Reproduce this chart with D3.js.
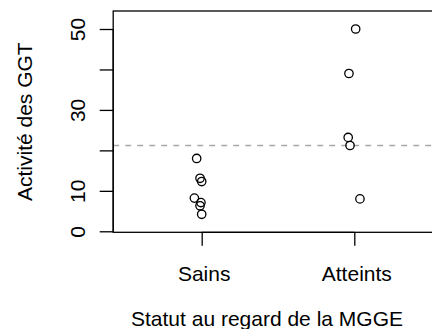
<!DOCTYPE html>
<html>
<head>
<meta charset="utf-8">
<script src="https://cdn.jsdelivr.net/npm/d3@7"></script>
<style>
  html, body { margin: 0; padding: 0; background: #fff; }
  svg { display: block; }
  text { font-family: "Liberation Sans", Arial, Helvetica, sans-serif; fill: #000; }
</style>
</head>
<body>
<svg id="chart" width="432" height="329"></svg>
<script>
// ---- data ----
const categories = ["Sains", "Atteints"];
const sainsValues = [18.0, 13.1, 12.3, 8.2, 7.1, 6.3, 4.2];
const sainsJitter = [-0.033, -0.011, 0.0, -0.048, -0.005, -0.011, 0.0];
const atteintsValues = [50.0, 39.0, 23.2, 21.2, 8.0];
const atteintsJitter = [0.009, -0.035, -0.040, -0.028, 0.037];
const referenceValue = 21.2;
const yTicks = [0, 10, 20, 30, 40, 50];
const yTickLabels = ["0", "10", "", "30", "", "50"];
const yTitle = "Activité des GGT";
const xTitle = "Statut au regard de la MGGE";

// ---- layout ----
const W = 432, H = 329;
const plot = { left: 113.2, right: 442.8, top: 11, bottom: 232.3 };
const fontSize = 21;

const svg = d3.select("#chart");

const x = d3.scaleLinear().domain([0.42, 2.58]).range([plot.left, plot.right]);
const y = d3.scaleLinear().domain([-0.25, 54.45]).range([plot.bottom, plot.top]);

const points = [];
sainsValues.forEach((v, i) => points.push({ g: 1, v, j: sainsJitter[i] }));
atteintsValues.forEach((v, i) => points.push({ g: 2, v, j: atteintsJitter[i] }));

// reference dashed line
svg.append("line")
  .attr("x1", plot.left).attr("x2", plot.right)
  .attr("y1", y(referenceValue)).attr("y2", y(referenceValue))
  .attr("stroke", "#a8a8a8").attr("stroke-width", 1.3)
  .attr("stroke-dasharray", "6,6");

// points
svg.append("g").selectAll("circle").data(points).join("circle")
  .attr("cx", d => x(d.g + d.j))
  .attr("cy", d => y(d.v))
  .attr("r", 4.2)
  .attr("fill", "none")
  .attr("stroke", "#000")
  .attr("stroke-width", 1.3);

// box
svg.append("rect")
  .attr("x", plot.left).attr("y", plot.top)
  .attr("width", plot.right - plot.left).attr("height", plot.bottom - plot.top)
  .attr("fill", "none").attr("stroke", "#000").attr("stroke-width", 1.3);

// y axis
const yAxis = d3.axisLeft(y)
  .tickValues(yTicks)
  .tickSize(13.5)
  .tickFormat((d, i) => yTickLabels[i]);
const gy = svg.append("g").attr("transform", `translate(${plot.left},0)`).call(yAxis);
gy.select(".domain").attr("d", `M0,${y(0)}V${y(50)}`).attr("stroke-width", 1.3);
gy.selectAll(".tick line").attr("stroke-width", 1.3);
gy.selectAll(".tick text")
  .attr("font-size", fontSize)
  .attr("font-family", "Liberation Sans, Arial, sans-serif")
  .attr("fill", "#000")
  .attr("x", null).attr("dy", null)
  .attr("text-anchor", "middle")
  .attr("transform", "translate(-28.2,0) rotate(-90)");

// x axis
const xAxis = d3.axisBottom(x)
  .tickValues([1, 2])
  .tickSize(13.5)
  .tickFormat((d) => categories[d - 1]);
const gx = svg.append("g").attr("transform", `translate(0,${plot.bottom})`).call(xAxis);
gx.select(".domain").attr("d", `M${x(1)},0H${x(2)}`).attr("stroke-width", 1.3);
gx.selectAll(".tick line").attr("stroke-width", 1.3);
gx.selectAll(".tick text")
  .attr("font-size", fontSize)
  .attr("font-family", "Liberation Sans, Arial, sans-serif")
  .attr("fill", "#000")
  .attr("dy", null)
  .attr("y", 48.4)
  .attr("dx", 2);

// titles
svg.append("text")
  .attr("transform", `translate(31.6,${(plot.top + plot.bottom) / 2}) rotate(-90)`)
  .attr("text-anchor", "middle")
  .attr("font-size", fontSize)
  .text(yTitle);

svg.append("text")
  .attr("x", 267).attr("y", 326)
  .attr("text-anchor", "middle")
  .attr("font-size", fontSize)
  .text(xTitle);
</script>
</body>
</html>
